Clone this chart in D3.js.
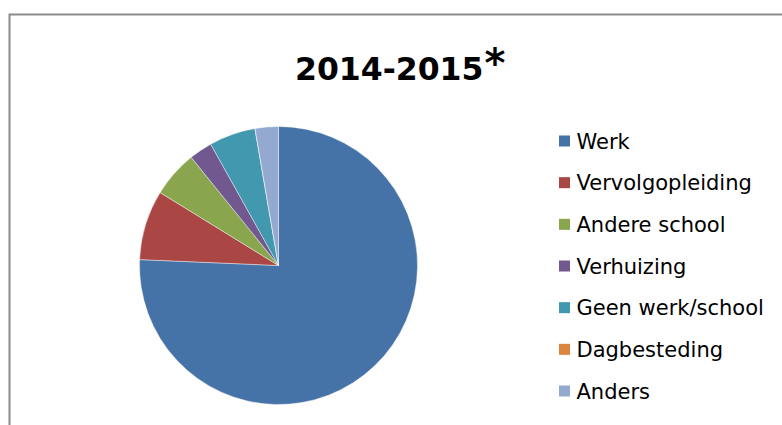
<!DOCTYPE html>
<html><head><meta charset="utf-8">
<script src="https://cdn.jsdelivr.net/npm/d3@7"></script>
<style>body{margin:0;background:#fff;} svg{display:block;font-family:"DejaVu Sans",Verdana,sans-serif;}</style>
</head><body>
<svg id="chart" width="782" height="425"></svg>
<script>
const categories = ["Werk","Vervolgopleiding","Andere school","Verhuizing","Geen werk/school","Dagbesteding","Anders"];
const values = [28,3,2,1,2,0,1];
const colors = ["#4572A7","#AA4643","#89A54E","#71588F","#4198AF","#DB843D","#93A9CF"];
const title = "2014-2015";

const svg = d3.select("#chart");
// frame
svg.append("path").attr("d","M9.5,425 V14.5 H782").attr("fill","none").attr("stroke","#8c8c8c").attr("stroke-width",2);

// title
const t = svg.append("text").attr("x",295).attr("y",79.5).attr("font-weight","bold").attr("font-size",31.5).attr("fill","#000");
t.append("tspan").text(title);
t.append("tspan").attr("font-size",40).attr("dx",1).attr("dy",-3).text("*");

const data = categories.map((c,i)=>({name:c,value:values[i],color:colors[i]}));
const pie = d3.pie().value(d=>d.value).sort(null);
const arc = d3.arc().innerRadius(0).outerRadius(139);
const g = svg.append("g").attr("transform","translate(278.5,265.5)");
g.selectAll("path").data(pie(data)).join("path")
  .attr("d",arc).attr("fill",d=>d.data.color)
  .attr("stroke","#fff").attr("stroke-width",0.6).attr("stroke-opacity",0.7);

// legend
const y = d3.scalePoint().domain(categories).range([141,391]);
const lg = svg.append("g");
const items = lg.selectAll("g").data(data).join("g").attr("transform",d=>`translate(559,${y(d.name)})`);
items.append("rect").attr("x",0).attr("y",-5.5).attr("width",11).attr("height",11).attr("fill",d=>d.color);
items.append("text").attr("x",17.5).attr("y",7.5).attr("font-size",21).attr("fill","#000").text(d=>d.name);
</script>
</body></html>
